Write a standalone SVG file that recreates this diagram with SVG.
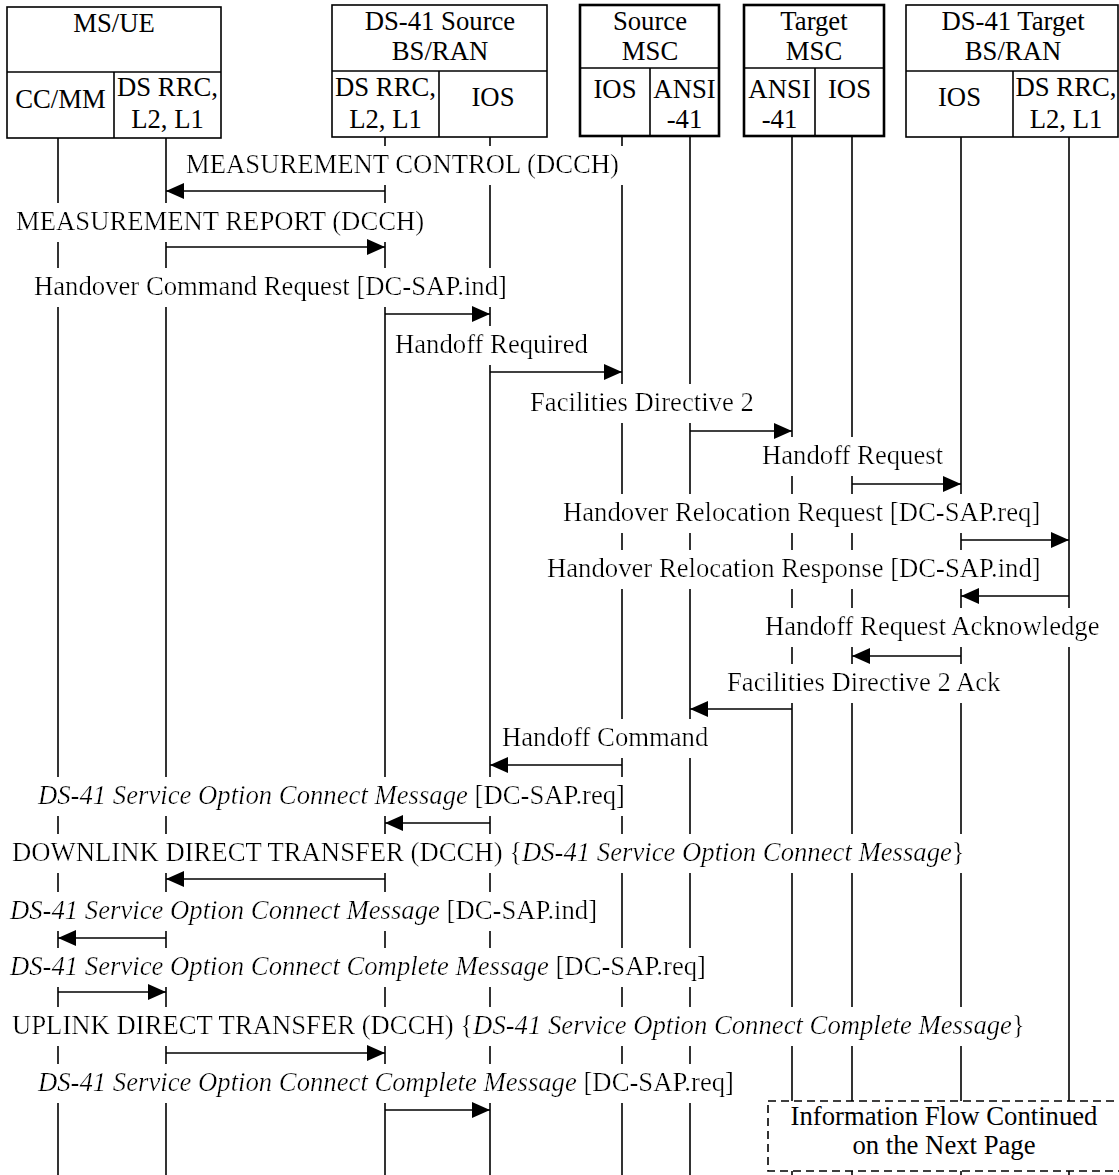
<svg xmlns="http://www.w3.org/2000/svg" width="1119" height="1175" viewBox="0 0 1119 1175">
  <style>
    .t { font-family: "Liberation Serif", "Times New Roman", serif; font-size: 26.7px; fill: #000; }
    .c { text-anchor: middle; }
    .i { font-style: italic; }
    .lbl { filter: url(#bg); }
    .box { fill: #fff; stroke: #000; stroke-width: 1.6; }
    .msc { stroke-width: 2.6; }
    .life { stroke: #000; stroke-width: 1.6; }
    .msg { stroke: #000; stroke-width: 1.6; fill: none; marker-end: url(#ah); }
    .cont { fill: #fff; stroke: #000; stroke-width: 1.6; stroke-dasharray: 8 5; }
  </style>
  <defs>
    <!-- white backing so message labels interrupt the lifelines -->
    <filter id="bg" x="-0.012" y="-0.1" width="1.024" height="1.3">
      <feFlood flood-color="#fff"/>
      <feComposite in="SourceGraphic" operator="over"/>
    </filter>
    <marker id="ah" markerUnits="userSpaceOnUse" markerWidth="18" markerHeight="16" refX="18" refY="8" orient="auto">
      <path d="M0,0 L18,8 L0,16 Z" fill="#000"/>
    </marker>
  </defs>
  <rect width="1119" height="1175" fill="#fff"/>

  <!-- lifelines -->
  <g id="lifelines">
    <line class="life" x1="58" y1="138" x2="58" y2="1175"/>
    <line class="life" x1="166" y1="138" x2="166" y2="1175"/>
    <line class="life" x1="385" y1="137" x2="385" y2="1175"/>
    <line class="life" x1="490" y1="137" x2="490" y2="1175"/>
    <line class="life" x1="622" y1="136" x2="622" y2="1175"/>
    <line class="life" x1="690" y1="136" x2="690" y2="1175"/>
    <line class="life" x1="792" y1="136" x2="792" y2="1175"/>
    <line class="life" x1="852" y1="136" x2="852" y2="1175"/>
    <line class="life" x1="961" y1="137" x2="961" y2="1175"/>
    <line class="life" x1="1069" y1="137" x2="1069" y2="1175"/>
  </g>

  <!-- entities -->
  <g id="ms-ue">
    <rect class="box" x="7" y="7" width="214" height="131"/>
    <line class="life" x1="7" y1="72" x2="221" y2="72"/>
    <line class="life" x1="114" y1="72" x2="114" y2="138"/>
    <text class="t c" x="114" y="32">MS/UE</text>
    <text class="t c" x="60.5" y="108">CC/MM</text>
    <text class="t c" x="167.5" y="96">DS RRC,</text>
    <text class="t c" x="167.5" y="128">L2, L1</text>
  </g>
  <g id="source-bs">
    <rect class="box" x="332" y="5" width="215" height="132"/>
    <line class="life" x1="332" y1="71" x2="547" y2="71"/>
    <line class="life" x1="439" y1="71" x2="439" y2="137"/>
    <text class="t c" x="440" y="30">DS-41 Source</text>
    <text class="t c" x="440" y="60">BS/RAN</text>
    <text class="t c" x="385.5" y="96">DS RRC,</text>
    <text class="t c" x="385.5" y="128">L2, L1</text>
    <text class="t c" x="493" y="106">IOS</text>
  </g>
  <g id="source-msc">
    <rect class="box msc" x="580" y="5" width="139" height="131"/>
    <line class="life msc" x1="580" y1="68" x2="719" y2="68"/>
    <line class="life msc" x1="650" y1="68" x2="650" y2="136"/>
    <text class="t c" x="650" y="30">Source</text>
    <text class="t c" x="650" y="60">MSC</text>
    <text class="t c" x="615" y="98">IOS</text>
    <text class="t c" x="684.5" y="98">ANSI</text>
    <text class="t c" x="684.5" y="128">-41</text>
  </g>
  <g id="target-msc">
    <rect class="box msc" x="744" y="5" width="140" height="131"/>
    <line class="life msc" x1="744" y1="68" x2="884" y2="68"/>
    <line class="life msc" x1="815" y1="68" x2="815" y2="136"/>
    <text class="t c" x="814" y="30">Target</text>
    <text class="t c" x="814" y="60">MSC</text>
    <text class="t c" x="779.5" y="98">ANSI</text>
    <text class="t c" x="779.5" y="128">-41</text>
    <text class="t c" x="849.5" y="98">IOS</text>
  </g>
  <g id="target-bs">
    <rect class="box" x="906" y="5" width="212" height="132"/>
    <line class="life" x1="906" y1="71" x2="1118" y2="71"/>
    <line class="life" x1="1013" y1="71" x2="1013" y2="137"/>
    <text class="t c" x="1013" y="30">DS-41 Target</text>
    <text class="t c" x="1013" y="60">BS/RAN</text>
    <text class="t c" x="959.5" y="106">IOS</text>
    <text class="t c" x="1066" y="96">DS RRC,</text>
    <text class="t c" x="1066" y="128">L2, L1</text>
  </g>

  <!-- message labels -->
  <g id="labels">
    <text class="t lbl" x="186" y="173">MEASUREMENT CONTROL (DCCH)</text>
    <text class="t lbl" x="16" y="230">MEASUREMENT REPORT (DCCH)</text>
    <text class="t lbl" x="34" y="295">Handover Command Request [DC-SAP.ind]</text>
    <text class="t lbl" x="395" y="353">Handoff Required</text>
    <text class="t lbl" x="530" y="411">Facilities Directive 2</text>
    <text class="t lbl" x="762" y="464">Handoff Request</text>
    <text class="t lbl" x="563" y="521">Handover Relocation Request [DC-SAP.req]</text>
    <text class="t lbl" x="547" y="577">Handover Relocation Response [DC-SAP.ind]</text>
    <text class="t lbl" x="765" y="635">Handoff Request Acknowledge</text>
    <text class="t lbl" x="727" y="691">Facilities Directive 2 Ack</text>
    <text class="t lbl" x="502" y="746">Handoff Command</text>
    <text class="t lbl" x="38" y="804"><tspan class="i">DS-41 Service Option Connect Message</tspan> [DC-SAP.req]</text>
    <text class="t lbl" x="12" y="861">DOWNLINK DIRECT TRANSFER (DCCH) {<tspan class="i">DS-41 Service Option Connect Message</tspan>}</text>
    <text class="t lbl" x="10" y="919"><tspan class="i">DS-41 Service Option Connect Message</tspan> [DC-SAP.ind]</text>
    <text class="t lbl" x="10" y="975"><tspan class="i">DS-41 Service Option Connect Complete Message</tspan> [DC-SAP.req]</text>
    <text class="t lbl" x="12" y="1034">UPLINK DIRECT TRANSFER (DCCH) {<tspan class="i">DS-41 Service Option Connect Complete Message</tspan>}</text>
    <text class="t lbl" x="38" y="1091"><tspan class="i">DS-41 Service Option Connect Complete Message</tspan> [DC-SAP.req]</text>
  </g>

  <!-- messages -->
  <g id="connectors">
    <line class="msg" x1="385" y1="191" x2="166" y2="191"/>
    <line class="msg" x1="166" y1="247" x2="385" y2="247"/>
    <line class="msg" x1="385" y1="314" x2="490" y2="314"/>
    <line class="msg" x1="490" y1="372" x2="622" y2="372"/>
    <line class="msg" x1="690" y1="431" x2="792" y2="431"/>
    <line class="msg" x1="852" y1="484" x2="961" y2="484"/>
    <line class="msg" x1="961" y1="540" x2="1069" y2="540"/>
    <line class="msg" x1="1069" y1="596" x2="961" y2="596"/>
    <line class="msg" x1="961" y1="656" x2="852" y2="656"/>
    <line class="msg" x1="792" y1="709" x2="690" y2="709"/>
    <line class="msg" x1="622" y1="765" x2="490" y2="765"/>
    <line class="msg" x1="490" y1="823" x2="385" y2="823"/>
    <line class="msg" x1="385" y1="879" x2="166" y2="879"/>
    <line class="msg" x1="166" y1="938" x2="58" y2="938"/>
    <line class="msg" x1="58" y1="992" x2="166" y2="992"/>
    <line class="msg" x1="166" y1="1053" x2="385" y2="1053"/>
    <line class="msg" x1="385" y1="1110" x2="490" y2="1110"/>
  </g>

  <!-- continuation note -->
  <g id="continued">
    <rect class="cont" x="768" y="1101" width="352" height="70"/>
    <text class="t c" x="944" y="1125">Information Flow Continued</text>
    <text class="t c" x="944" y="1154">on the Next Page</text>
  </g>
</svg>
